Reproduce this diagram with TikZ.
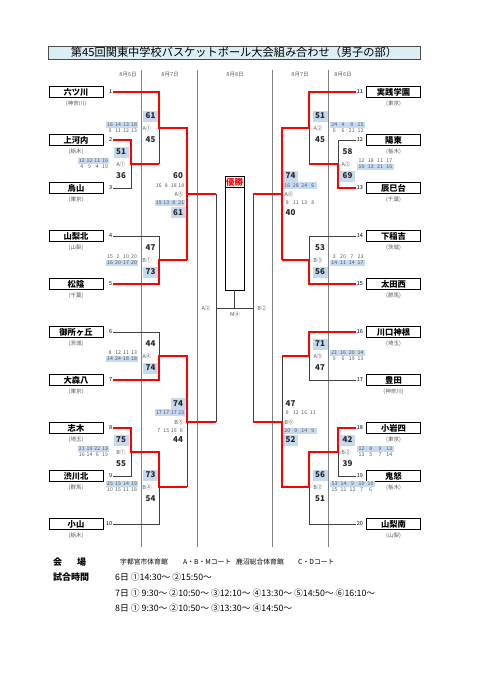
\documentclass[tikz,border=0pt]{standalone}
\usepackage{fontspec}
\setmainfont{Noto Sans CJK JP}
\definecolor{hlblue}{HTML}{C5D9F1}
\definecolor{titlebg}{HTML}{DAEEF3}
\definecolor{dline}{HTML}{808080}
\definecolor{txtgray}{HTML}{595959}
\newcommand{\qrow}[7]{% name, x0, y, cell width, count, highlight, list
  \ifnum#6=1\relax \fill[hlblue] ({#2},{#3-3.1}) rectangle ({#2+#4*#5},{#3+3.1});\fi
  \foreach \v [count=\i] in {#7}{\node[q] (#1-\i) at ({#2+#4*\i-#4/2},{#3}) {\v};}%
}
\begin{document}
\begin{tikzpicture}[x=1pt,y=-1pt,
  team/.style={draw, line width=0.8pt, minimum width=54pt, minimum height=11pt, inner sep=0pt, font=\fontsize{8.3}{8.3}\selectfont\bfseries},
  pref/.style={font=\fontsize{5.5}{5.5}\selectfont, text=txtgray, inner sep=0pt},
  num/.style={font=\fontsize{5.5}{5.5}\selectfont, inner sep=0.6pt},
  score/.style={font=\fontsize{8}{8}\selectfont\bfseries, text=black!85, inner sep=0pt, minimum width=15pt, minimum height=11pt},
  hs/.style={score, fill=hlblue},
  lab/.style={font=\fontsize{5.5}{5.5}\selectfont, text=txtgray, inner sep=0pt},
  q/.style={font=\fontsize{5.2}{5.2}\selectfont, text=txtgray, inner sep=0pt},
  hdr/.style={font=\fontsize{5.5}{5.5}\selectfont, text=txtgray, inner sep=0pt},
  win/.style={red, line width=1.3pt, line join=miter},
  lose/.style={black!75, line width=0.7pt},
  dateline/.style={dline, line width=1pt},
  foot/.style={font=\fontsize{8.8}{8.8}\selectfont, anchor=west, inner sep=0pt},
  venue/.style={font=\fontsize{6.8}{6.8}\selectfont, anchor=west, inner sep=0pt},
  foothead/.style={font=\fontsize{9}{9}\selectfont\bfseries, anchor=west, inner sep=0pt}]
\useasboundingbox (0,0) rectangle (481,680);
\fill[white] (0,0) rectangle (481,680);

% title
\node[draw=black!70, line width=0.8pt, fill=titlebg, minimum width=372pt, minimum height=13pt, inner sep=0pt,
  font=\fontsize{11.2}{11.2}\selectfont] (title) at (234,52.5) {第45回関東中学校バスケットボール大会組み合わせ（男子の部）};

% date headers and date lines
\node[hdr] (h1) at (128,75) {8月6日};
\node[hdr] (h2) at (170,75) {8月7日};
\node[hdr] (h3) at (235,75) {8月8日};
\node[hdr] (h4) at (300,75) {8月7日};
\node[hdr] (h5) at (343,75) {8月6日};
\foreach \xx in {141,197,272,328}{\draw[dateline] (\xx,70) -- (\xx,547);}

% teams
\foreach \i/\nm/\pf in {1/六ツ川/神奈川,2/上河内/栃木,3/烏山/東京,4/山梨北/山梨,5/松陰/千葉,6/御所ヶ丘/茨城,7/大森八/東京,8/志木/埼玉,9/渋川北/群馬,10/小山/栃木}{
  \pgfmathsetmacro\yy{92+48*(\i-1)}
  \node[team] (t\i) at (76,\yy) {\nm};
  \node[pref] (p\i) at (76,\yy+12) {(\pf)};
  \node[num,anchor=east] (n\i) at (113,\yy) {\i};
}
\foreach \i/\nm/\pf in {11/実践学園/東京,12/陽東/栃木,13/辰巳台/千葉,14/下稲吉/茨城,15/太田西/群馬,16/川口神根/埼玉,17/豊田/神奈川,18/小岩四/東京,19/鬼怒/栃木,20/山梨南/山梨}{
  \pgfmathsetmacro\yy{92+48*(\i-11)}
  \node[team] (t\i) at (393.5,\yy) {\nm};
  \node[pref] (p\i) at (393.5,\yy+12) {(\pf)};
  \node[num,anchor=west] (n\i) at (356,\yy) {\i};
}

% match points
\coordinate (a1) at (131,164); \coordinate (a2) at (131,452);
\coordinate (b1) at (159,128); \coordinate (b2) at (159,260);
\coordinate (b3) at (159,356); \coordinate (b4) at (159,487);
\coordinate (c1) at (187,194); \coordinate (c2) at (187,422);
\coordinate (d1) at (216,308);
\coordinate (ra1) at (338,164); \coordinate (ra2) at (338,452);
\coordinate (rb1) at (309,128); \coordinate (rb2) at (309,260);
\coordinate (rb3) at (309,356); \coordinate (rb4) at (309,487);
\coordinate (rc1) at (282,194); \coordinate (rc2) at (282,422);
\coordinate (rd1) at (253,308);

% final box
\node[draw, line width=0.8pt, minimum width=19pt, minimum height=114pt, inner sep=0pt] (final) at (234.5,233) {};
\draw[line width=0.8pt] (final.north west) ++(0,12) -- ++(19,0);
\node[font=\fontsize{8.5}{8.5}\selectfont\bfseries, text=red, inner sep=0pt] (champ) at (234.5,182) {優勝};

% loser (black) lines
\draw[lose] (b1) -- (a1 -| b1);
\draw[lose] (n3.east) -| (a1);
\draw[lose] (n4.east) -| (b2);
\draw[lose] (n6.east) -| (b3);
\draw[lose] (c2) -- (b4 -| c2);
\draw[lose] (n9.east) -| (a2);
\draw[lose] (n10.east) -| (b4);
\draw[lose] (c1 -| d1) -- (c2 -| d1);
\draw[lose] (rc1 -| rd1) -- (rc2 -| rd1);
\draw[lose] (d1) -- (rd1);
\draw[lose] (final.south) -- (final.south |- d1);
\draw[lose] (rb1) -- (ra1 -| rb1);
\draw[lose] (n12.west) -| (ra1);
\draw[lose] (n14.west) -| (rb2);
\draw[lose] (n17.west) -| (rb3);
\draw[lose] (rb3 -| rc1) -- (rc2);
\draw[lose] (n19.west) -| (ra2);
\draw[lose] (n20.west) -| (rb4);

% winner (red) lines
\draw[win] (n2.east) -| (a1) -- (a1 -| b1);
\draw[win] (n1.east) -| (b1) -- (b1 -| c1) -- (b2 -| c1);
\draw[win] (n5.east) -| (b2) -- (b2 -| c1);
\draw[win] (c1) -- (c1 -| d1);
\draw[win] (n7.east) -| (b3) -- (b3 -| c2) -- (c2) -- (c2 -| d1);
\draw[win] (n8.east) -| (a2) -- (a2 -| b4) -- (b4) -- (b4 -| c2);
\draw[win] (n13.west) -| (ra1) -- (ra1 -| rb1);
\draw[win] (n11.west) -| (rb1) -- (rb1 -| rc1) -- (rb2 -| rc1);
\draw[win] (n15.west) -| (rb2) -- (rb2 -| rc1);
\draw[win] (rc1) -- (rc1 -| rd1);
\draw[win] (n16.west) -| (rb3) -- (rb3 -| rc1);
\draw[win] (n18.west) -| (ra2) -- (ra2 -| rb4) -- (rb4) -- (rb4 -| rc2) -- (rc2) -- (rc2 -| rd1);

% final labels
\node[lab] (la-f1) at (206,308) {A②};
\node[lab] (la-f2) at (262,308) {B②};
\node[lab] (la-f3) at (235,314) {M④};

% ---- left scores ----
% a1: 2 v 3
\qrow{qa1u}{78}{161}{7.75}{4}{1}{12,12,11,16}
\qrow{qa1l}{78}{167}{7.75}{4}{0}{4,9,4,19}
\node[hs] (sa1t) at (121,152) {51};
\node[lab] (la1) at (121,164) {A①};
\node[score] (sa1b) at (121,176) {36};
% b1: 1 v W
\qrow{qb1u}{106}{125}{8}{4}{1}{16,14,13,18}
\qrow{qb1l}{106}{131}{8}{4}{0}{9,11,12,13}
\node[hs] (sb1t) at (150.5,116) {61};
\node[lab] (lb1) at (147,128) {A①};
\node[score] (sb1b) at (150.5,140) {45};
% b2: 4 v 5
\qrow{qb2u}{106}{257}{8}{4}{0}{15,2,10,20}
\qrow{qb2l}{106}{263}{8}{4}{1}{16,20,17,20}
\node[score] (sb2t) at (150.5,248) {47};
\node[lab] (lb2) at (147,260) {B①};
\node[hs] (sb2b) at (150.5,272) {73};
% b3: 6 v 7
\qrow{qb3u}{106}{353}{8}{4}{0}{8,12,11,13}
\qrow{qb3l}{106}{359}{8}{4}{1}{14,24,18,18}
\node[score] (sb3t) at (150.5,344) {44};
\node[lab] (lb3) at (147,356) {A④};
\node[hs] (sb3b) at (150.5,368) {74};
% a2: 8 v 9
\qrow{qa2u}{78}{449}{7.75}{4}{1}{21,19,22,13}
\qrow{qa2l}{78}{455}{7.75}{4}{0}{16,14,6,19}
\node[hs] (sa2t) at (121,440) {75};
\node[lab] (la2) at (121,452) {B①};
\node[score] (sa2b) at (121,464) {55};
% b4: W v 10
\qrow{qb4u}{106}{484}{8}{4}{1}{25,15,14,19}
\qrow{qb4l}{106}{490}{8}{4}{0}{10,15,11,18}
\node[hs] (sb4t) at (150.5,475) {73};
\node[lab] (lb4) at (147,487) {B④};
\node[score] (sb4b) at (150.5,499) {54};
% c1: semi top left
\node[score] (sc1t) at (178,176) {60};
\qrow{qc1u}{155}{185.5}{7.5}{4}{0}{16,8,18,18}
\node[lab] (lc1) at (179,194.5) {A⑤};
\qrow{qc1l}{155}{203}{7.5}{4}{1}{19,13,8,21}
\node[hs] (sc1b) at (178,212.5) {61};
% c2: semi bottom left
\node[hs] (sc2t) at (178,403.5) {74};
\qrow{qc2u}{155}{412.5}{7.5}{4}{1}{17,17,17,23}
\node[lab] (lc2) at (179,422) {B⑤};
\qrow{qc2l}{155}{431}{7.5}{4}{0}{7,15,16,6}
\node[score] (sc2b) at (178,440) {44};

% ---- right scores ----
% rb1: 11 v W
\qrow{qrb1u}{330}{125}{8.75}{4}{1}{24,4,8,15}
\qrow{qrb1l}{330}{131}{8.75}{4}{0}{6,6,21,12}
\node[hs] (srb1t) at (320,116) {51};
\node[lab] (lrb1) at (318,128) {A②};
\node[score] (srb1b) at (320,140) {45};
% ra1: 12 v 13
\qrow{qra1u}{357}{161}{9.25}{4}{0}{12,18,11,17}
\qrow{qra1l}{357}{167}{9.25}{4}{1}{19,13,21,16}
\node[score] (sra1t) at (347.5,152) {58};
\node[lab] (lra1) at (346,164) {A②};
\node[hs] (sra1b) at (347.5,176) {69};
% rc1: semi top right
\node[hs] (src1t) at (290.5,176) {74};
\qrow{qrc1u}{283}{185.5}{8.5}{4}{1}{16,28,24,6}
\node[lab] (lrc1) at (289,194.5) {A⑥};
\qrow{qrc1l}{283}{203}{8.5}{4}{0}{8,11,13,8}
\node[score] (src1b) at (290.5,212.5) {40};
% rb2: 14 v 15
\qrow{qrb2u}{330}{257}{8.75}{4}{0}{3,20,7,23}
\qrow{qrb2l}{330}{263}{8.75}{4}{1}{14,11,14,17}
\node[score] (srb2t) at (320,248) {53};
\node[lab] (lrb2) at (318,260) {B③};
\node[hs] (srb2b) at (320,272) {56};
% rb3: 16 v 17
\qrow{qrb3u}{330}{353}{8.75}{4}{1}{21,16,20,14}
\qrow{qrb3l}{330}{359}{8.75}{4}{0}{9,6,19,13}
\node[hs] (srb3t) at (320,344) {71};
\node[lab] (lrb3) at (318,356) {A③};
\node[score] (srb3b) at (320,368) {47};
% rc2: semi bottom right
\node[score] (src2t) at (290.5,403.5) {47};
\qrow{qrc2u}{283}{412.5}{8.5}{4}{0}{8,12,16,11}
\node[lab] (lrc2) at (289,422) {B⑥};
\qrow{qrc2l}{283}{431}{8.5}{4}{1}{20,9,14,9}
\node[hs] (src2b) at (290.5,440) {52};
% ra2: 18 v 19
\qrow{qra2u}{357}{449}{9.25}{4}{1}{12,8,9,13}
\qrow{qra2l}{357}{455}{9.25}{4}{0}{13,5,7,14}
\node[hs] (sra2t) at (347.5,440) {42};
\node[lab] (lra2) at (346,452) {B②};
\node[score] (sra2b) at (347.5,464) {39};
% rb4: W v 20
\qrow{qrb4u}{330}{484}{9}{5}{1}{13,14,9,10,10}
\qrow{qrb4l}{330}{490}{9}{5}{0}{15,11,12,7,6}
\node[hs] (srb4t) at (320,475) {56};
\node[lab] (lrb4) at (318,487) {B②};
\node[score] (srb4b) at (320,499) {51};

% ---- footer ----
\node[foothead] (fv) at (53,562) {会\hspace{15pt}場};
\node[venue] (v1) at (120,562) {宇都宮市体育館};
\node[venue] (v2) at (183,562) {A・B・Mコート};
\node[venue] (v3) at (236,562) {鹿沼総合体育館};
\node[venue] (v4) at (298,562) {C・Dコート};
\node[foothead] (ft) at (53,577.5) {試合時間};
\node[foot] (d6) at (115,577.5) {6日 ①14:30～ ②15:50～};
\node[foot] (d7) at (115,593) {7日 ① 9:30～ ②10:50～ ③12:10～ ④13:30～ ⑤14:50～ ⑥16:10～};
\node[foot] (d8) at (115,608.5) {8日 ① 9:30～ ②10:50～ ③13:30～ ④14:50～};
\end{tikzpicture}
\end{document}
